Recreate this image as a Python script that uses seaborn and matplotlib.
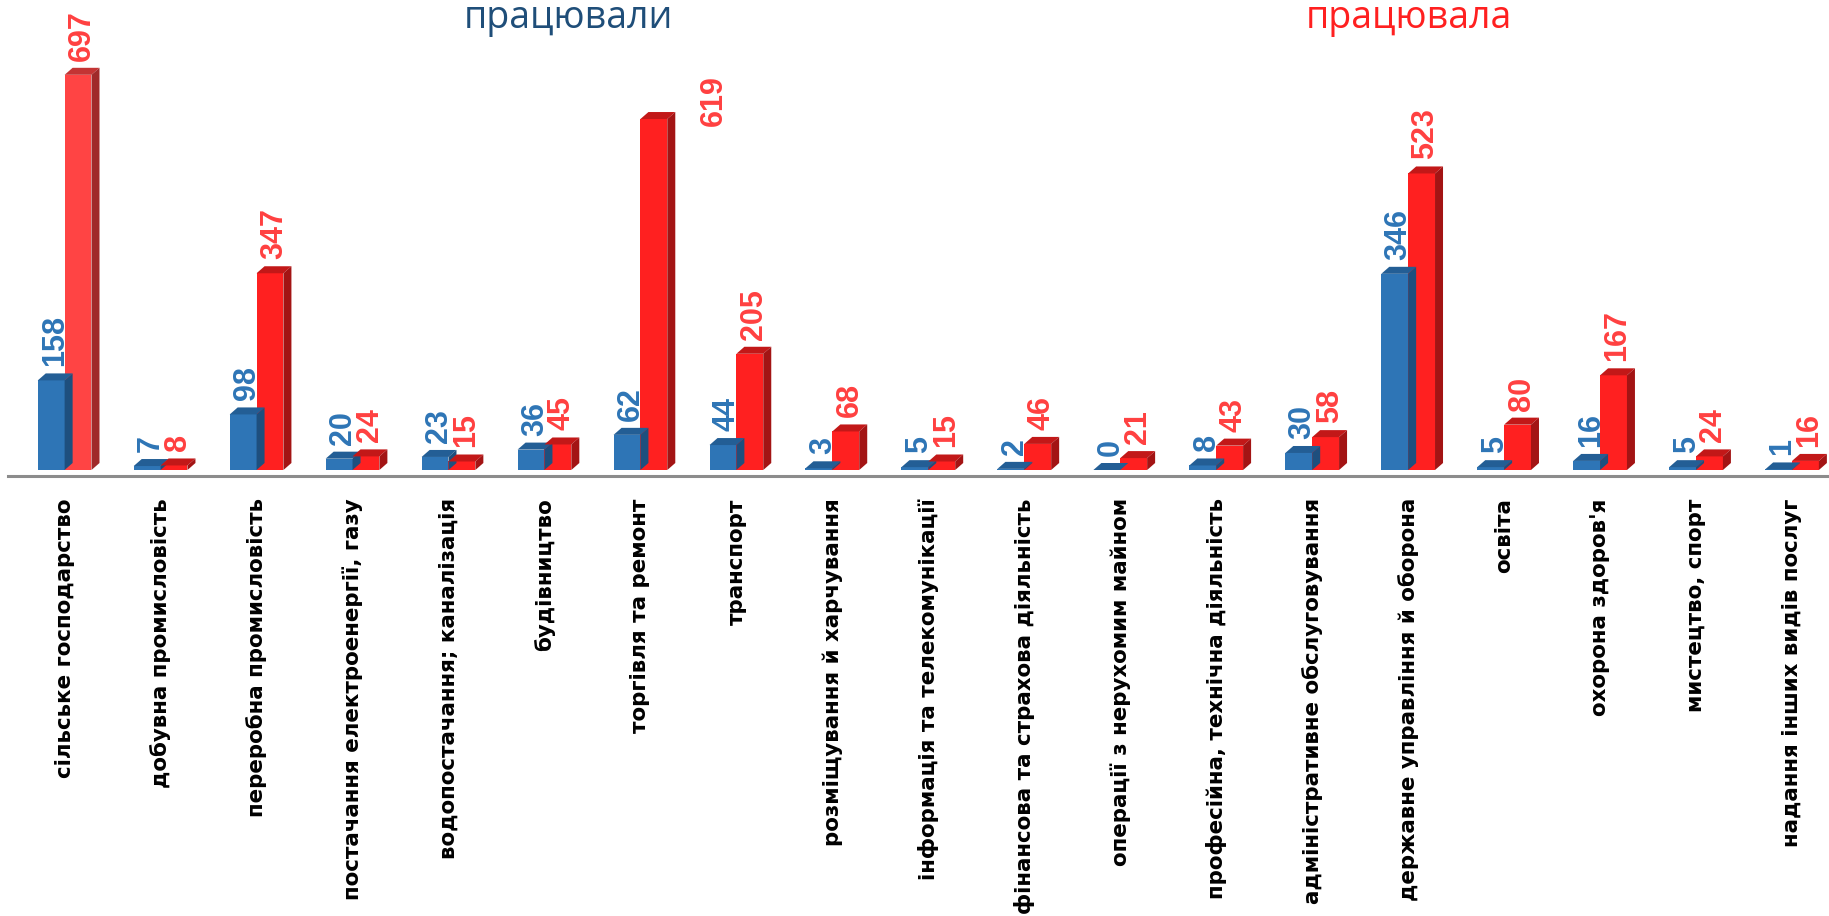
import matplotlib
matplotlib.use("Agg")
import matplotlib.pyplot as plt
import seaborn as sns
import pandas as pd
from matplotlib.patches import Polygon

categories = [
    "сільське господарство",
    "добувна промисловість",
    "переробна промисловість",
    "постачання електроенергії, газу",
    "водопостачання; каналізація",
    "будівництво",
    "торгівля та ремонт",
    "транспорт",
    "розміщування й харчування",
    "інформація та телекомунікації",
    "фінансова та страхова діяльність",
    "операції з нерухомим майном",
    "професійна, технічна діяльність",
    "адміністративне обслуговування",
    "державне управління й оборона",
    "освіта",
    "охорона здоров'я",
    "мистецтво, спорт",
    "надання інших видів послуг",
]
series_names = ["працювали", "працювала"]
values_blue = [158, 7, 98, 20, 23, 36, 62, 44, 3, 5, 2, 0, 8, 30, 346, 5, 16, 5, 1]
values_red = [697, 8, 347, 24, 15, 45, 619, 205, 68, 15, 46, 21, 43, 58, 523, 80, 167, 24, 16]

df = pd.DataFrame({
    "category": categories * 2,
    "series": [series_names[0]] * len(categories) + [series_names[1]] * len(categories),
    "value": values_blue + values_red,
})

W, H = 1829, 916
fig = plt.figure(figsize=(W / 100, H / 100), dpi=100)
px_per_unit = 0.567
base_px = 476
ax = fig.add_axes([8 / W, 1 - base_px / H, (1840 - 8) / W, base_px / H])

front = {"працювали": "#2E75B6", "працювала": "#FF2020"}
sns.barplot(data=df, x="category", y="value", hue="series", hue_order=series_names,
            palette=front, width=0.56, ax=ax, legend=False, saturation=1)

floor = 6 / px_per_unit
ax.set_xlim(-0.59, 18.5)
ax.set_ylim(-floor, base_px / px_per_unit - floor)

dx = 8 / 96.0
dy = 7 / px_per_unit
top_col = ["#235E95", "#C21818"]
side_col = ["#1E4F7E", "#A31414"]
label_col = ["#2E75B6", "#FF4040"]

for s, cont in enumerate(ax.containers):
    for i, bar in enumerate(cont.patches):
        x0 = bar.get_x()
        x1 = x0 + bar.get_width()
        h = bar.get_height()
        fc, tc, sc = front[series_names[s]], top_col[s], side_col[s]
        if s == 1 and i == 0:
            fc, tc, sc = "#FF4444", "#C43434", "#A02A2A"
            bar.set_facecolor(fc)
        bar.set_edgecolor("none")
        ax.add_patch(Polygon([(x0, h), (x1, h), (x1 + dx, h + dy), (x0 + dx, h + dy)],
                             closed=True, facecolor=tc, edgecolor="none", zorder=3))
        ax.add_patch(Polygon([(x1, 0), (x1, h), (x1 + dx, h + dy), (x1 + dx, dy)],
                             closed=True, facecolor=sc, edgecolor="none", zorder=3))
        lx = (x0 + x1) / 2 + dx / 2
        ly = h + dy + 7 / px_per_unit
        if s == 1 and i == 6:
            # this label sits beside its bar in the original
            lx = i + 0.77
            ly = h - 7 / px_per_unit
        ax.text(lx, ly, str(int(h)), rotation=90, ha="center", va="bottom",
                color=label_col[s], fontsize=22, fontweight="bold",
                family="Liberation Sans", clip_on=False, zorder=5)

for sp in ["top", "right", "left"]:
    ax.spines[sp].set_visible(False)
ax.spines["bottom"].set_color("#8C8C8C")
ax.spines["bottom"].set_linewidth(2.2)
ax.set_yticks([])
ax.set_xlabel("")
ax.set_ylabel("")
ax.tick_params(axis="x", length=0, pad=16)
ax.set_xticks(range(len(categories)))
ax.set_xticklabels(categories, rotation=90, ha="center", va="top",
                   fontsize=15.4, fontweight="bold", family="DejaVu Sans", color="black")
ax.patch.set_alpha(0)

fig.text(568 / W, 1 - 28 / H, series_names[0], color="#1F4E79", fontsize=27,
         family=["Open Sans", "DejaVu Sans"], ha="center", va="baseline")
fig.text(1409 / W, 1 - 28 / H, series_names[1], color="#FF2020", fontsize=27,
         family=["Open Sans", "DejaVu Sans"], ha="center", va="baseline")

fig.savefig("out.png", dpi=100)
